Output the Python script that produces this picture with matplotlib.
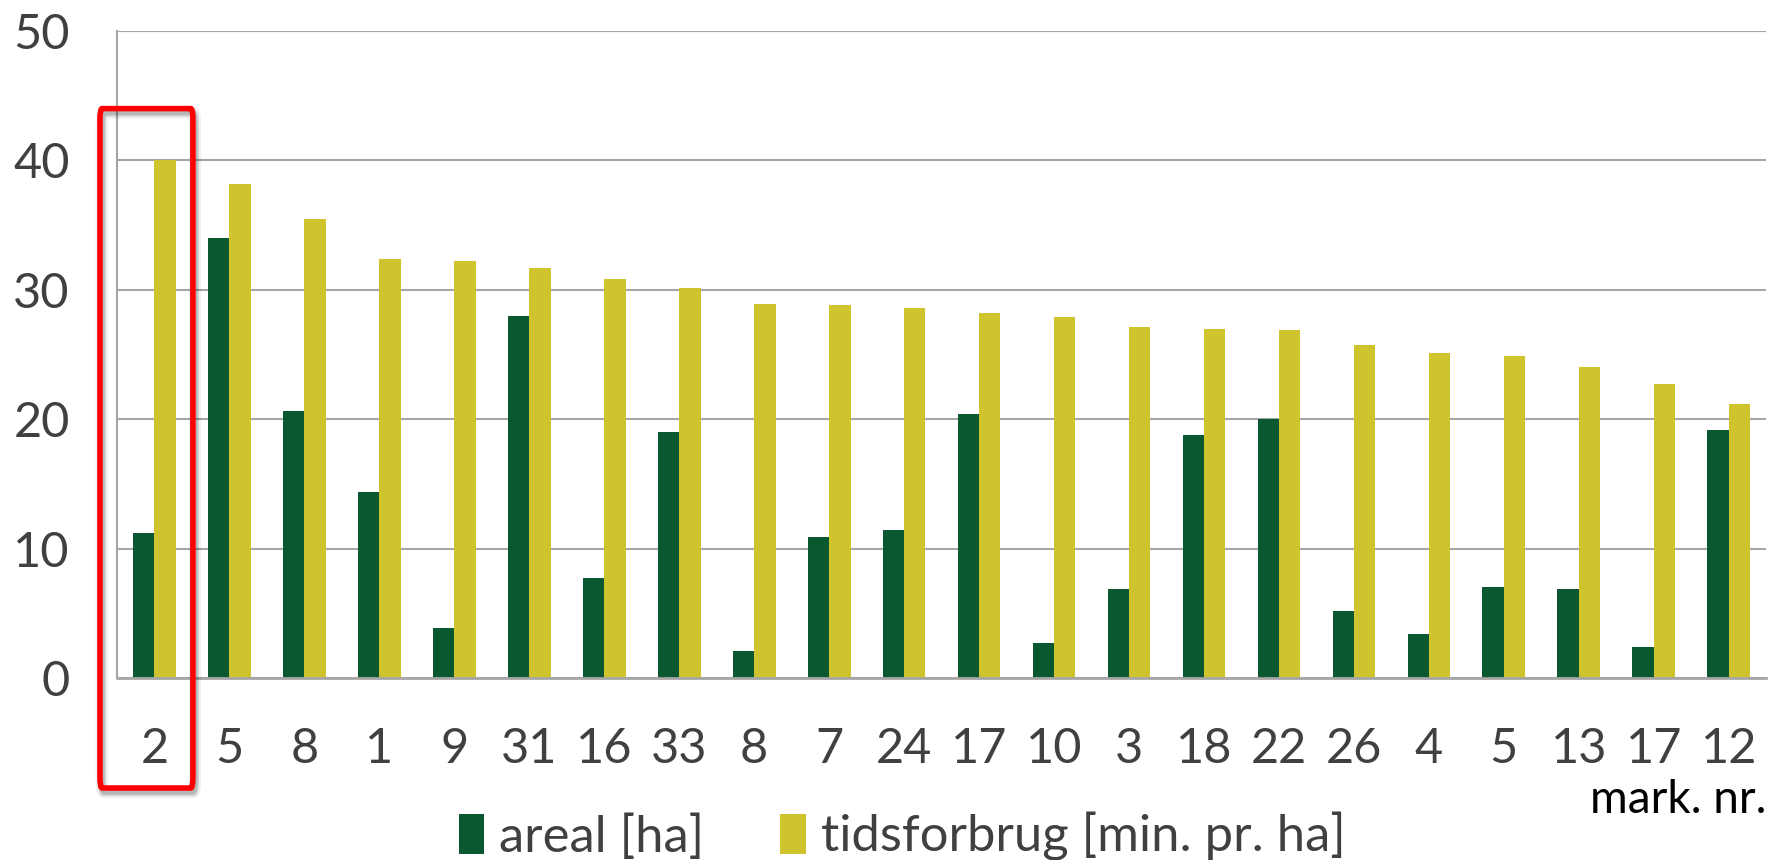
import matplotlib
matplotlib.use("Agg")
import matplotlib.pyplot as plt
import matplotlib.patches as patches
import matplotlib.transforms as mtransforms
import numpy as np

# data
marks = ["2", "5", "8", "1", "9", "31", "16", "33", "8", "7", "24",
         "17", "10", "3", "18", "22", "26", "4", "5", "13", "17", "12"]
areal = [11.2, 34.0, 20.6, 14.4, 3.9, 28.0, 7.7, 19.0, 2.1, 10.9, 11.4,
         20.4, 2.7, 6.9, 18.8, 20.0, 5.2, 3.4, 7.0, 6.9, 2.4, 19.2]
tid = [40.0, 38.2, 35.5, 32.4, 32.2, 31.7, 30.8, 30.1, 28.9, 28.8, 28.6,
       28.2, 27.9, 27.1, 27.0, 26.9, 25.7, 25.1, 24.9, 24.0, 22.7, 21.2]
yticks = [0, 10, 20, 30, 40, 50]

green = "#0b5730"
yellow = "#cfc42d"
grid = "#a6a6a6"
txt = "#404040"

plt.rcParams['font.family'] = ['Lato', 'DejaVu Sans']

fig = plt.figure(figsize=(17.83, 8.6), dpi=100)
ax = fig.add_axes([0.0656, 0.2116, 0.925, 0.7524])

x = np.arange(len(marks))
w = 0.285
ax.bar(x - w / 2, areal, w, color=green, label="areal [ha]", zorder=3)
ax.bar(x + w / 2, tid, w, color=yellow, label="tidsforbrug [min. pr. ha]", zorder=3)

ax.set_xlim(-0.5, len(marks) - 0.5)
ax.set_ylim(0, 50)
ax.set_yticks(yticks)
ax.set_yticklabels([str(v) for v in yticks], fontsize=35, color=txt)
ax.set_xticks(x)
ax.set_xticklabels(marks, fontsize=35, color=txt)
ax.tick_params(axis="both", length=0)
ax.tick_params(axis="y", pad=34)
ax.tick_params(axis="x", pad=35)

ax.yaxis.grid(True, color=grid, linewidth=1.5, zorder=0)
for s in ["top", "right"]:
    ax.spines[s].set_visible(False)
ax.spines["left"].set_color(grid)
ax.spines["left"].set_linewidth(1.5)
ax.spines["bottom"].set_color(grid)
ax.spines["bottom"].set_linewidth(2)
ax.spines["bottom"].set_zorder(4)

# top border line of plot area
ax.axhline(50, color=grid, linewidth=1.5, zorder=0)

ax.text(1.0, -0.209, "mark. nr.", transform=ax.transAxes, ha="right",
        va="baseline", fontsize=33, color="black")

# red highlight box around the first group, with a soft shadow
bx, by, bw, bh = -0.727, -8.5, 1.24, 52.5
shadow_tr = ax.transData + mtransforms.ScaledTranslation(2 / 100, -4 / 100,
                                                         fig.dpi_scale_trans)
for lw, a in [(9, 0.06), (6, 0.10), (4, 0.14)]:
    sh = patches.FancyBboxPatch((bx, by), bw, bh,
                                boxstyle="round,pad=0,rounding_size=0.03",
                                fill=False, edgecolor="black", linewidth=lw,
                                alpha=a, clip_on=False, zorder=5,
                                mutation_aspect=30, transform=shadow_tr)
    ax.add_patch(sh)
rect = patches.FancyBboxPatch((bx, by), bw, bh,
                              boxstyle="round,pad=0,rounding_size=0.03",
                              fill=False, edgecolor="#ff0000", linewidth=4,
                              clip_on=False, zorder=6,
                              mutation_aspect=30)
ax.add_patch(rect)

leg = fig.legend(loc="center", bbox_to_anchor=(0.506, 0.027), ncol=2,
                 frameon=False, fontsize=36.5, handlelength=0.5,
                 handleheight=0.85, handletextpad=0.3, columnspacing=1.5,
                 borderpad=0.1)
for t in leg.get_texts():
    t.set_color(txt)

fig.savefig("out.png", dpi=100)
